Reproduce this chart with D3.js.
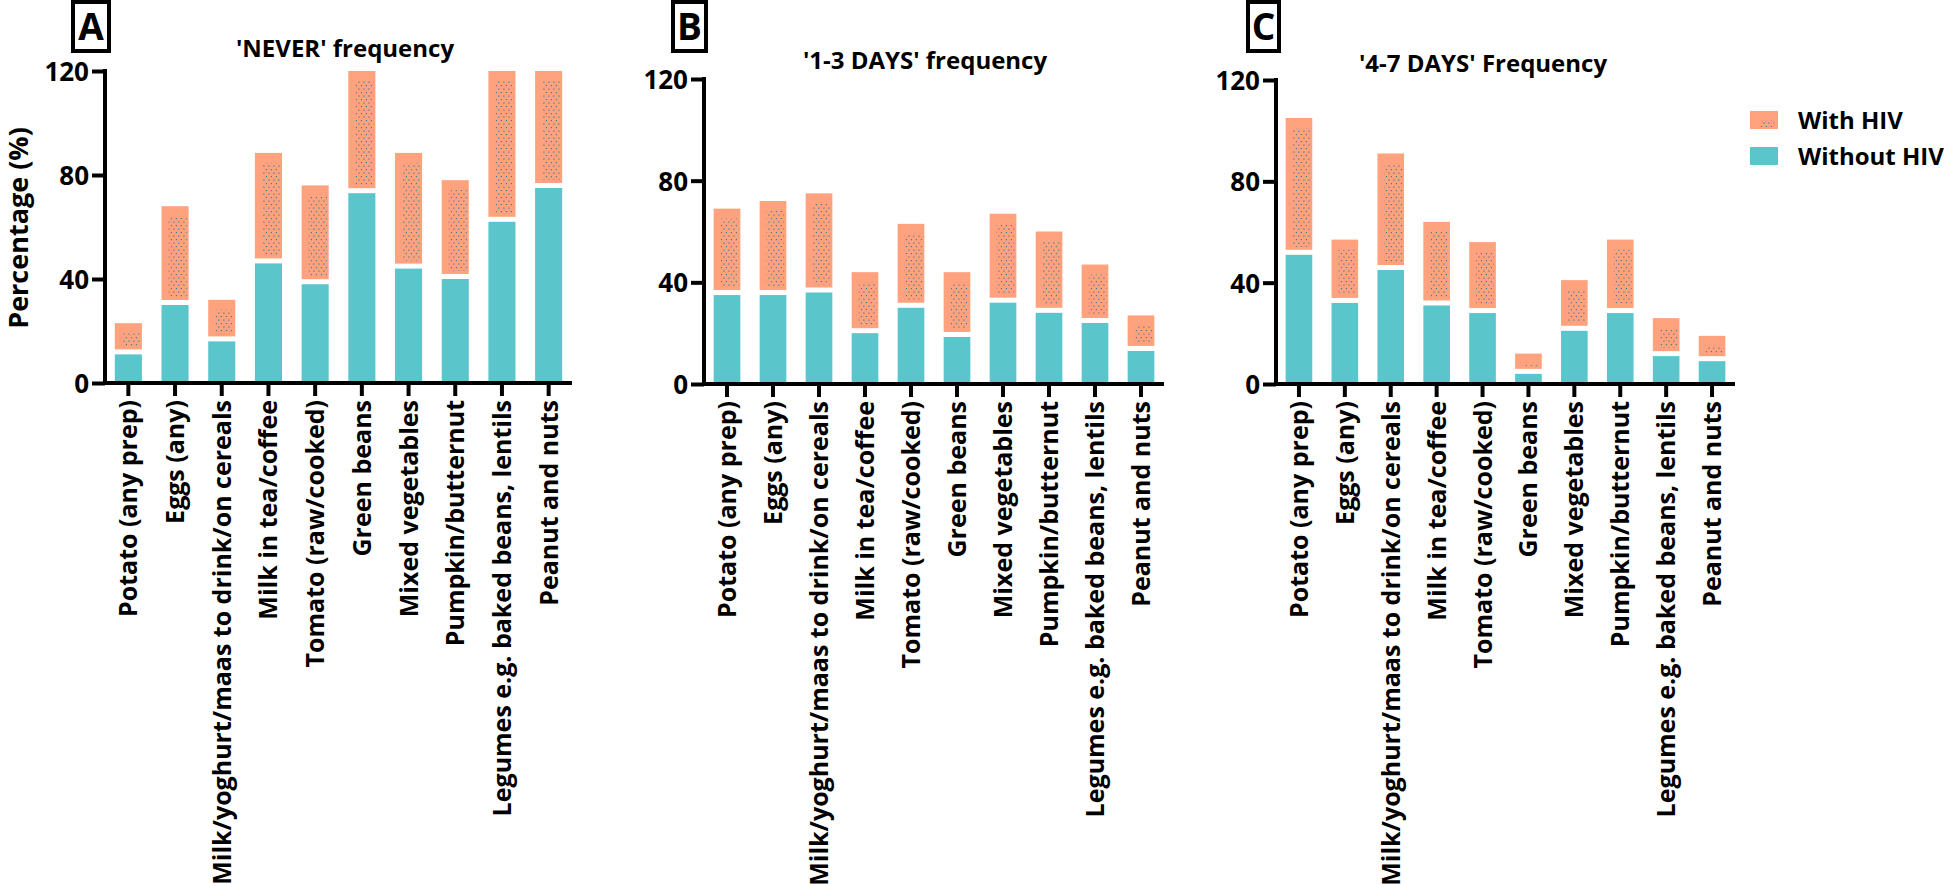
<!DOCTYPE html>
<html>
<head>
<meta charset="utf-8">
<script src="https://cdn.jsdelivr.net/npm/d3@7/dist/d3.min.js"></script>
<style>
  body { margin: 0; background: #fff; }
  svg { display: block; }
</style>
</head>
<body>
<div id="chart"></div>
<script>
// ---- data (percentages) ----
const categories = [
  'Potato (any prep)', 'Eggs (any)', 'Milk/yoghurt/maas to drink/on cereals',
  'Milk in tea/coffee', 'Tomato (raw/cooked)', 'Green beans', 'Mixed vegetables',
  'Pumpkin/butternut', 'Legumes e.g. baked beans, lentils', 'Peanut and nuts'
];
const seriesNames = ['With HIV', 'Without HIV'];
const yTicks = [0, 40, 80, 120];

const neverWithout = [11, 30, 16, 46, 38, 73, 44, 40, 62, 75];
const neverWith    = [12, 38, 16, 42.5, 38, 66, 44.5, 38, 61, 75];
const days13Without = [35, 35, 36, 20, 30, 18.5, 32, 28, 24, 13];
const days13With    = [34, 37, 39, 24, 33, 25.5, 35, 32, 23, 14];
const days47Without = [51, 32, 45, 31, 28, 4, 21, 28, 11, 9];
const days47With    = [54, 25, 46, 33, 28, 8, 20, 29, 15, 10];

const panelTitles = ["'NEVER' frequency", "'1-3 DAYS' frequency", "'4-7 DAYS' Frequency"];
const panelLetters = ['A', 'B', 'C'];

// ---- layout ----
const W = 1946, H = 884;
const ORANGE = '#FFA27D', TEAL = '#5BC5CC', DOT = '#3f7c9c';
const FONT = '"Open Sans", "DejaVu Sans", sans-serif';

const panels = [
  { without: neverWithout, withHiv: neverWith,
    x0: 105, x1: 572, yTop: 71, yBot: 383, boxX: 73, boxW: 36, titleX: 345, titleY: 57 },
  { without: days13Without, withHiv: days13With,
    x0: 704, x1: 1164, yTop: 79, yBot: 384, boxX: 673, boxW: 33, titleX: 925, titleY: 69 },
  { without: days47Without, withHiv: days47With,
    x0: 1276, x1: 1735, yTop: 80, yBot: 384, boxX: 1248, boxW: 31, titleX: 1483, titleY: 72 }
];

const svg = d3.select('#chart').append('svg')
  .attr('width', W).attr('height', H)
  .attr('viewBox', `0 0 ${W} ${H}`);

// stipple pattern used on the "With HIV" segments
const pat = svg.append('defs').append('pattern')
  .attr('id', 'dots').attr('patternUnits', 'userSpaceOnUse')
  .attr('width', 5).attr('height', 7);
[[0.8, 1], [3.3, 4.5]].forEach(([px, py]) => {
  pat.append('rect').attr('x', px).attr('y', py)
    .attr('width', 1.2).attr('height', 1.2).attr('fill', DOT);
});

panels.forEach((p, pi) => {
  const g = svg.append('g');

  const x = d3.scaleBand().domain(categories)
    .range([p.x0, p.x1]).paddingInner(0.42).paddingOuter(0.21);
  const y = d3.scaleLinear().domain([0, 120]).range([p.yBot, p.yTop]).clamp(true);

  const rows = categories.map((c, i) => ({
    cat: c, without: p.without[i], withHiv: p.withHiv[i],
    total: p.without[i] + p.withHiv[i]
  }));

  // Without HIV (bottom segment)
  g.selectAll('rect.without').data(rows).join('rect')
    .attr('class', 'without')
    .attr('x', d => x(d.cat)).attr('width', x.bandwidth())
    .attr('y', d => y(d.without))
    .attr('height', d => y(0) - y(d.without))
    .attr('fill', TEAL);

  // With HIV (stacked, separated by a white gap)
  const gap = 5;
  g.selectAll('rect.with').data(rows).join('rect')
    .attr('class', 'with')
    .attr('x', d => x(d.cat)).attr('width', x.bandwidth())
    .attr('y', d => y(d.total))
    .attr('height', d => Math.max(0, y(d.without) - gap - y(d.total)))
    .attr('fill', ORANGE);

  // stipple inset
  g.selectAll('rect.stip').data(rows).join('rect')
    .attr('class', 'stip')
    .attr('x', d => x(d.cat) + 7).attr('width', x.bandwidth() - 9)
    .attr('y', d => y(d.total) + 10)
    .attr('height', d => Math.max(0, y(d.without) - gap - y(d.total) - 13))
    .attr('fill', 'url(#dots)');

  // y axis
  const yAxis = g.append('g')
    .attr('transform', `translate(${p.x0},0)`)
    .call(d3.axisLeft(y).tickValues(yTicks).tickSize(13).tickSizeOuter(0).tickPadding(3));
  yAxis.select('.domain').attr('stroke', '#000').attr('stroke-width', 4)
    .attr('d', `M0,${p.yTop - 2}V${p.yBot}`);
  yAxis.selectAll('.tick line').attr('stroke', '#000').attr('stroke-width', 4);
  yAxis.selectAll('.tick text')
    .attr('font-family', FONT).attr('font-weight', 700).attr('font-size', 26)
    .attr('fill', '#000').attr('dy', '0.36em');

  // x axis
  const xAxis = g.append('g')
    .attr('transform', `translate(0,${p.yBot})`)
    .call(d3.axisBottom(x).tickSize(13).tickSizeOuter(0));
  xAxis.select('.domain').attr('stroke', '#000').attr('stroke-width', 4)
    .attr('d', `M${p.x0 - 2},0H${p.x1}`);
  xAxis.selectAll('.tick line').attr('stroke', '#000').attr('stroke-width', 4);
  xAxis.selectAll('.tick text')
    .attr('font-family', FONT).attr('font-weight', 700).attr('font-size', 25)
    .attr('fill', '#000')
    .attr('transform', 'rotate(-90)')
    .attr('text-anchor', 'end')
    .attr('x', -17).attr('y', 0).attr('dy', '0.36em');

  // panel title
  g.append('text')
    .attr('x', p.titleX).attr('y', p.titleY)
    .attr('text-anchor', 'middle')
    .attr('font-family', FONT).attr('font-weight', 700).attr('font-size', 24)
    .text(panelTitles[pi]);

  // boxed panel letter
  g.append('rect')
    .attr('x', p.boxX).attr('y', 2).attr('width', p.boxW).attr('height', 49)
    .attr('fill', 'none').attr('stroke', '#000').attr('stroke-width', 4);
  g.append('text')
    .attr('x', p.boxX + p.boxW / 2).attr('y', 40)
    .attr('text-anchor', 'middle')
    .attr('font-family', FONT).attr('font-weight', 700).attr('font-size', 37)
    .text(panelLetters[pi]);
});

// y axis title (panel A only)
svg.append('text')
  .attr('transform', 'translate(17,228) rotate(-90)')
  .attr('text-anchor', 'middle').attr('dominant-baseline', 'central')
  .attr('font-family', FONT).attr('font-weight', 700).attr('font-size', 27)
  .text('Percentage (%)');

// legend
const legend = svg.append('g').attr('transform', 'translate(1750,111)');
const legendColors = [ORANGE, TEAL];
seriesNames.forEach((name, i) => {
  const row = legend.append('g').attr('transform', `translate(0,${i * 36})`);
  row.append('rect').attr('width', 28).attr('height', 18).attr('fill', legendColors[i]);
  if (i === 0) {
    row.append('rect').attr('x', 10).attr('y', 9).attr('width', 14).attr('height', 7)
      .attr('fill', 'url(#dots)');
  }
  row.append('text')
    .attr('x', 48).attr('y', 9).attr('dy', '0.36em')
    .attr('font-family', FONT).attr('font-weight', 700).attr('font-size', 24)
    .text(name);
});
</script>
</body>
</html>
